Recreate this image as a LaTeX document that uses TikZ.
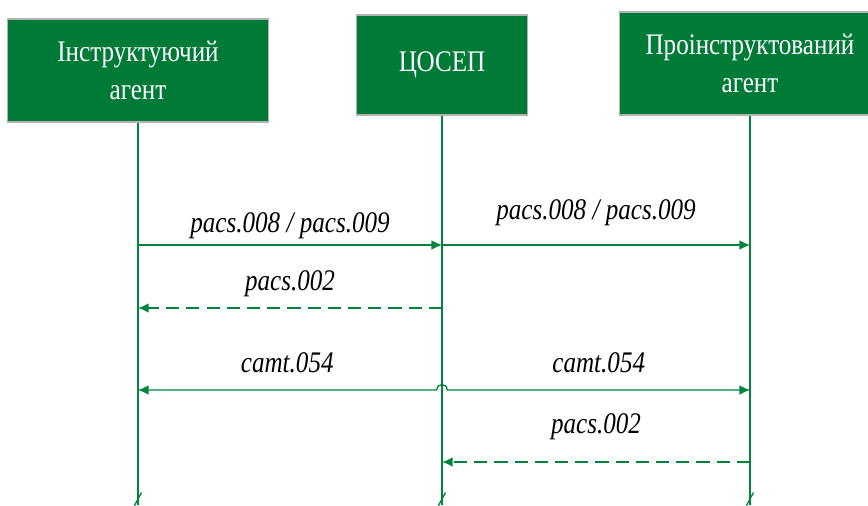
\documentclass[tikz,border=0pt]{standalone}
\usepackage{fontspec}
\setmainfont{Liberation Serif}[FakeStretch=0.84]
\usepackage{xcolor}
\definecolor{agentgreen}{RGB}{0,122,55}
\definecolor{linegreen}{RGB}{0,132,61}
\usepackage{tikz}
\usetikzlibrary{arrows.meta}
\tikzstyle{agent} = [rectangle, draw=gray!60, line width=0.6pt, fill=agentgreen, text=white, minimum height=2.06cm, align=center, font=\rmfamily\fontsize{17}{21.5}\selectfont]
\tikzstyle{lifeline} = [draw=linegreen, line width=0.75pt]
\tikzstyle{msg} = [draw=linegreen, line width=0.75pt, -{Latex[length=6pt,width=5.5pt]}]
\tikzstyle{reply} = [msg, line width=1.1pt, dash pattern=on 7.5pt off 4pt]
\tikzstyle{msgtext} = [text=black, font=\rmfamily\fontsize{17}{20}\selectfont\itshape]

\begin{document}
\begin{tikzpicture}

    \useasboundingbox (0,0) rectangle (17.36,-10.10);
    \clip (0,0) rectangle (17.36,-10.10);

    \node (instr) [agent, minimum width=5.2cm, text width=5cm] at (2.76,-1.41) {Інструктуючий\\агент};
    \node (cosep) [agent, minimum width=3.4cm, text width=3.2cm, minimum height=2cm] at (8.84,-1.30) {ЦОСЕП};
    \node (proin) [agent, minimum width=5.2cm, text width=5cm] at (15.0,-1.27) {Проінструктований\\агент};

    \coordinate (bottom) at (0,-10.10);
    \coordinate (brk) at (0,-9.98);
    \coordinate (r1) at (0,-4.90);
    \coordinate (r2) at (0,-6.16);
    \coordinate (r3) at (0,-7.80);
    \coordinate (r4) at (0,-9.24);

    \draw[lifeline] (instr.south) -- (instr.south |- bottom);
    \draw[lifeline] (cosep.south) -- (cosep.south |- bottom);
    \draw[lifeline] (proin.south) -- (proin.south |- bottom);
    \draw[lifeline] (instr.south |- brk) +(-0.07,-0.13) -- +(0.07,0.13);
    \draw[lifeline] (cosep.south |- brk) +(-0.07,-0.13) -- +(0.07,0.13);
    \draw[lifeline] (proin.south |- brk) +(-0.07,-0.13) -- +(0.07,0.13);

    \draw[msg] (instr |- r1) -- node[msgtext, above=0cm] {pacs.008 / pacs.009} (cosep |- r1);
    \draw[msg] (cosep |- r1) -- node[msgtext, above=0.26cm] {pacs.008 / pacs.009} (proin |- r1);
    \draw[reply] (cosep |- r2) -- node[msgtext, above=0.08cm] {pacs.002} (instr |- r2);
    \draw[msg, {Latex[length=6pt,width=5.5pt]}-{Latex[length=6pt,width=5.5pt]}] (instr |- r3) -- node[msgtext, above=0.22cm] {camt.054} ([xshift=-0.11cm]cosep |- r3) arc[start angle=180, end angle=0, radius=0.11cm] -- node[msgtext, above=0.22cm] {camt.054} (proin |- r3);
    \draw[reply] (proin |- r4) -- node[msgtext, above=0.3cm] {pacs.002} (cosep |- r4);

\end{tikzpicture}
\end{document}
